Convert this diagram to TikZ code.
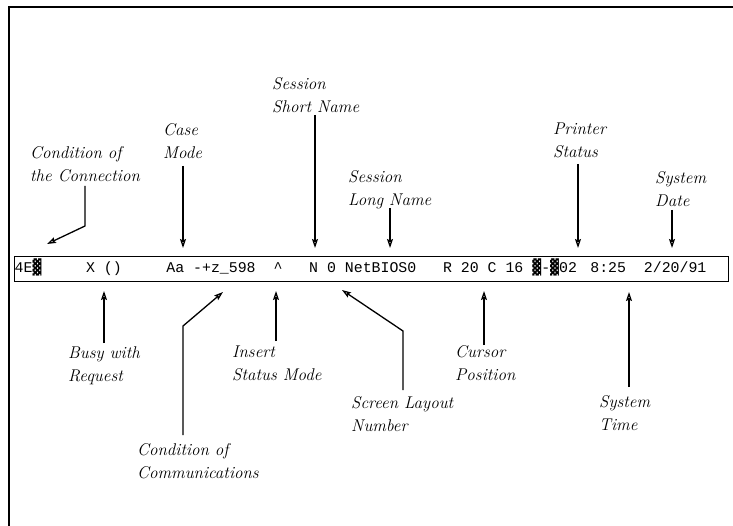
\documentclass[tikz,border=0pt]{standalone}
\usepackage{fontspec}
\newfontfamily\barfont{Liberation Mono}
\newfontfamily\blockfont{DejaVu Sans Mono}
\usetikzlibrary{arrows.meta}
\newcommand{\blk}{{\blockfont\fontsize{14.8}{16}\selectfont ▓}}
\tikzset{
  frameline/.style={line width=1.4pt},
  barbox/.style={draw, line width=1.2pt},
  bartext/.style={font=\barfont\fontsize{14.87}{16}\selectfont, anchor=base west, inner sep=0pt},
  lbl/.style={font=\itshape\fontsize{17}{23}\selectfont, align=left, anchor=north west, inner sep=0pt},
  conn/.style={line width=1.3pt, -{Stealth[open,length=9pt,width=6pt,inset=1.5pt]}},
}
\begin{document}
\begin{tikzpicture}[x=1pt,y=-1pt]
\useasboundingbox (0,0) rectangle (733,526);
% outer frame
\draw[frameline] (8,7) -- (733,7);
\draw[frameline] (9,7) -- (9,526);
% status bar
\node[barbox, anchor=north west, minimum width=714pt, minimum height=25pt, inner sep=0pt] (bar) at (14,256) {};
\def\cw{8.925}
\node[bartext] (t1) at ({14.5+0*\cw},273) {4E\blk};
\node[bartext] (t2) at ({14.5+8*\cw},273) {X ()};
\node[bartext] (t3) at ({14.5+17*\cw},273) {Aa -+z\_598};
\node[bartext] (t4) at ({14.5+29*\cw},273) {\^{}};
\node[bartext] (t5) at ({14.5+33*\cw},273) {N 0 NetBIOS0};
\node[bartext] (t6) at ({14.5+48*\cw},273) {R 20 C 16};
\node[bartext] (t7) at ({14.5+58*\cw},273) {\blk-\blk02};
\node[bartext] (t8) at ({14.5+64.5*\cw},273) {8:25};
\node[bartext] (t9) at ({14.5+70.5*\cw},273) {2/20/91};
% labels above
\node[lbl] (connL) at (30,146) {Condition of\\the Connection};
\node[lbl] (caseL) at (163,123) {Case\\Mode};
\node[lbl] (shortL) at (272,77) {Session\\Short Name};
\node[lbl] (longL) at (348,170) {Session\\Long Name};
\node[lbl] (printL) at (553,123) {Printer\\Status};
\node[lbl] (dateL) at (655,171) {System\\Date};
% labels below
\node[lbl] (busyL) at (68,347) {Busy with\\Request};
\node[lbl] (insL) at (232,346) {Insert\\Status Mode};
\node[lbl] (commL) at (137,443) {Condition of\\Communications};
\node[lbl] (screenL) at (351,396) {Screen Layout\\Number};
\node[lbl] (curL) at (455,345) {Cursor\\Position};
\node[lbl] (timeL) at (599,395) {System\\Time};
% connector points
\coordinate (c1a) at (85,186); \coordinate (c1b) at (85,226); \coordinate (c1t) at (47,244);
\coordinate (c2a) at (183,166); \coordinate (c2t) at (183,248);
\coordinate (c3a) at (315,115); \coordinate (c3t) at (315,248);
\coordinate (c4a) at (390,208); \coordinate (c4t) at (390,248);
\coordinate (c5a) at (578,164); \coordinate (c5t) at (578,248);
\coordinate (c6a) at (672,210); \coordinate (c6t) at (672,248);
\coordinate (d1a) at (104,343); \coordinate (d1t) at (104,291);
\coordinate (d2a) at (183,435); \coordinate (d2b) at (183,326); \coordinate (d2t) at (223,292);
\coordinate (d3a) at (276,341); \coordinate (d3t) at (276,291);
\coordinate (d4a) at (403,390); \coordinate (d4b) at (403,331); \coordinate (d4t) at (342,290);
\coordinate (d5a) at (484,345); \coordinate (d5t) at (484,291);
\coordinate (d6a) at (629,387); \coordinate (d6t) at (629,292);
% connectors
\draw[conn] (c1a) -- (c1b) -- (c1t);
\draw[conn] (c2a) -- (c2t);
\draw[conn] (c3a) -- (c3t);
\draw[conn] (c4a) -- (c4t);
\draw[conn] (c5a) -- (c5t);
\draw[conn] (c6a) -- (c6t);
\draw[conn] (d1a) -- (d1t);
\draw[conn] (d2a) -- (d2b) -- (d2t);
\draw[conn] (d3a) -- (d3t);
\draw[conn] (d4a) -- (d4b) -- (d4t);
\draw[conn] (d5a) -- (d5t);
\draw[conn] (d6a) -- (d6t);
\end{tikzpicture}
\end{document}
